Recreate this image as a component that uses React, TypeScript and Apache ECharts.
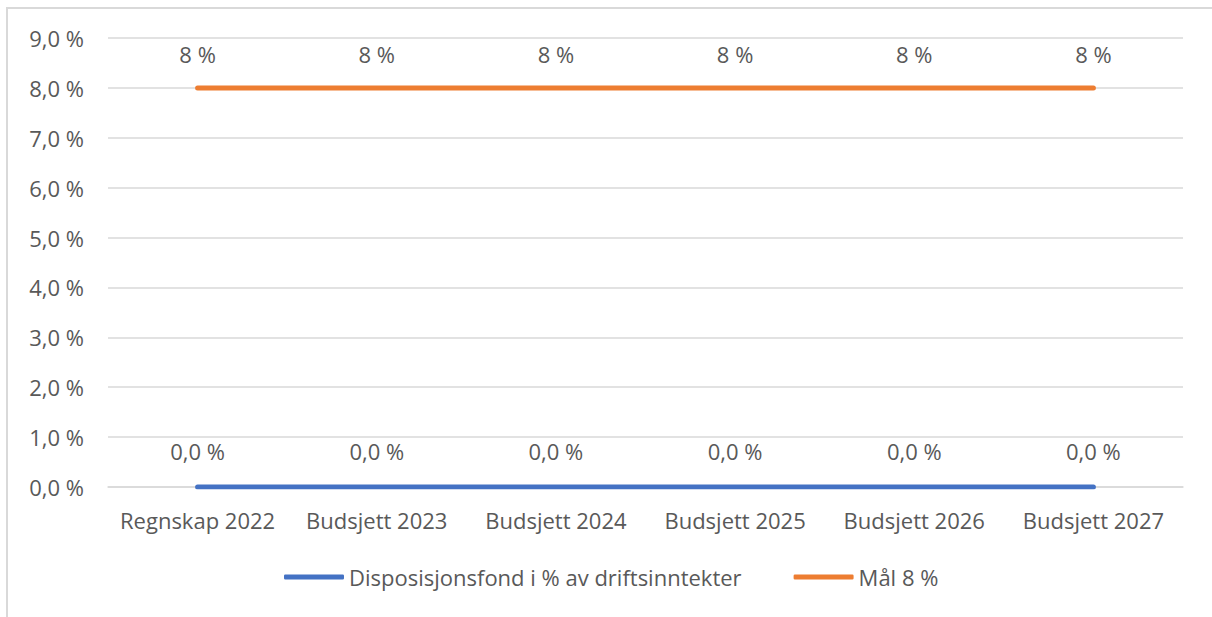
import React, { useEffect, useRef } from "react";
import * as echarts from "echarts";

const categories = ["Regnskap 2022", "Budsjett 2023", "Budsjett 2024", "Budsjett 2025", "Budsjett 2026", "Budsjett 2027"];
const fondValues = [0, 0, 0, 0, 0, 0];
const targetValues = [8, 8, 8, 8, 8, 8];
const seriesNames = ["Disposisjonsfond i % av driftsinntekter", "Mål 8 %"];

const FONT = "'Open Sans', sans-serif";
const TXT = "#595959";
const FS = 22;

export default function App() {
  const ref = useRef<HTMLDivElement>(null);
  useEffect(() => {
    const chart = echarts.init(ref.current!, null, { renderer: "svg" });
    chart.setOption({
      animation: false,
      backgroundColor: "#ffffff",
      textStyle: { fontFamily: FONT },
      graphic: [
        {
          type: "rect",
          shape: { x: 7, y: 8, width: 1400, height: 800 },
          style: { fill: "none", stroke: "#d9d9d9", lineWidth: 2 },
          silent: true,
          z: -1,
        },
      ],
      grid: { left: 108, right: 29, top: 38, bottom: 130, containLabel: false },
      legend: {
        left: 279,
        top: 561,
        icon: "roundRect",
        itemWidth: 60,
        itemHeight: 5,
        itemGap: 52,
        textStyle: { fontFamily: FONT, fontSize: FS, color: TXT },
        data: seriesNames,
      },
      xAxis: {
        type: "category",
        data: categories,
        boundaryGap: true,
        axisLine: { show: true, lineStyle: { color: "#d9d9d9", width: 1.5 } },
        axisTick: { show: false },
        axisLabel: { fontFamily: FONT, fontSize: FS, color: TXT, margin: 22, interval: 0 },
      },
      yAxis: {
        type: "value",
        min: 0,
        max: 9,
        interval: 1,
        axisLine: { show: false },
        axisTick: { show: false },
        splitLine: { lineStyle: { color: "#d9d9d9", width: 1.5 } },
        axisLabel: {
          fontFamily: FONT,
          fontSize: FS,
          color: TXT,
          margin: 24,
          formatter: (v: number) => v.toFixed(1).replace(".", ",") + " %",
        },
      },
      series: [
        {
          name: seriesNames[0],
          type: "line",
          data: fondValues,
          symbol: "circle",
          symbolSize: 0.1,
          showSymbol: true,
          color: "#4472C4",
          lineStyle: { color: "#4472C4", width: 5, cap: "round" },
          label: {
            show: true,
            position: "top",
            distance: 25,
            fontFamily: FONT,
            fontSize: FS,
            color: TXT,
            formatter: (p: any) => Number(p.value).toFixed(1).replace(".", ",") + " %",
          },
          z: 3,
        },
        {
          name: seriesNames[1],
          type: "line",
          data: targetValues,
          symbol: "circle",
          symbolSize: 0.1,
          showSymbol: true,
          color: "#ED7D31",
          lineStyle: { color: "#ED7D31", width: 5, cap: "round" },
          label: {
            show: true,
            position: "top",
            distance: 23,
            fontFamily: FONT,
            fontSize: FS,
            color: TXT,
            formatter: (p: any) => String(p.value) + " %",
          },
          z: 3,
        },
      ],
    });
    return () => chart.dispose();
  }, []);
  return (
    <div
      ref={ref}
      style={{ position: "absolute", left: 0, top: 0, width: 1212, height: 617 }}
    />
  );
}
